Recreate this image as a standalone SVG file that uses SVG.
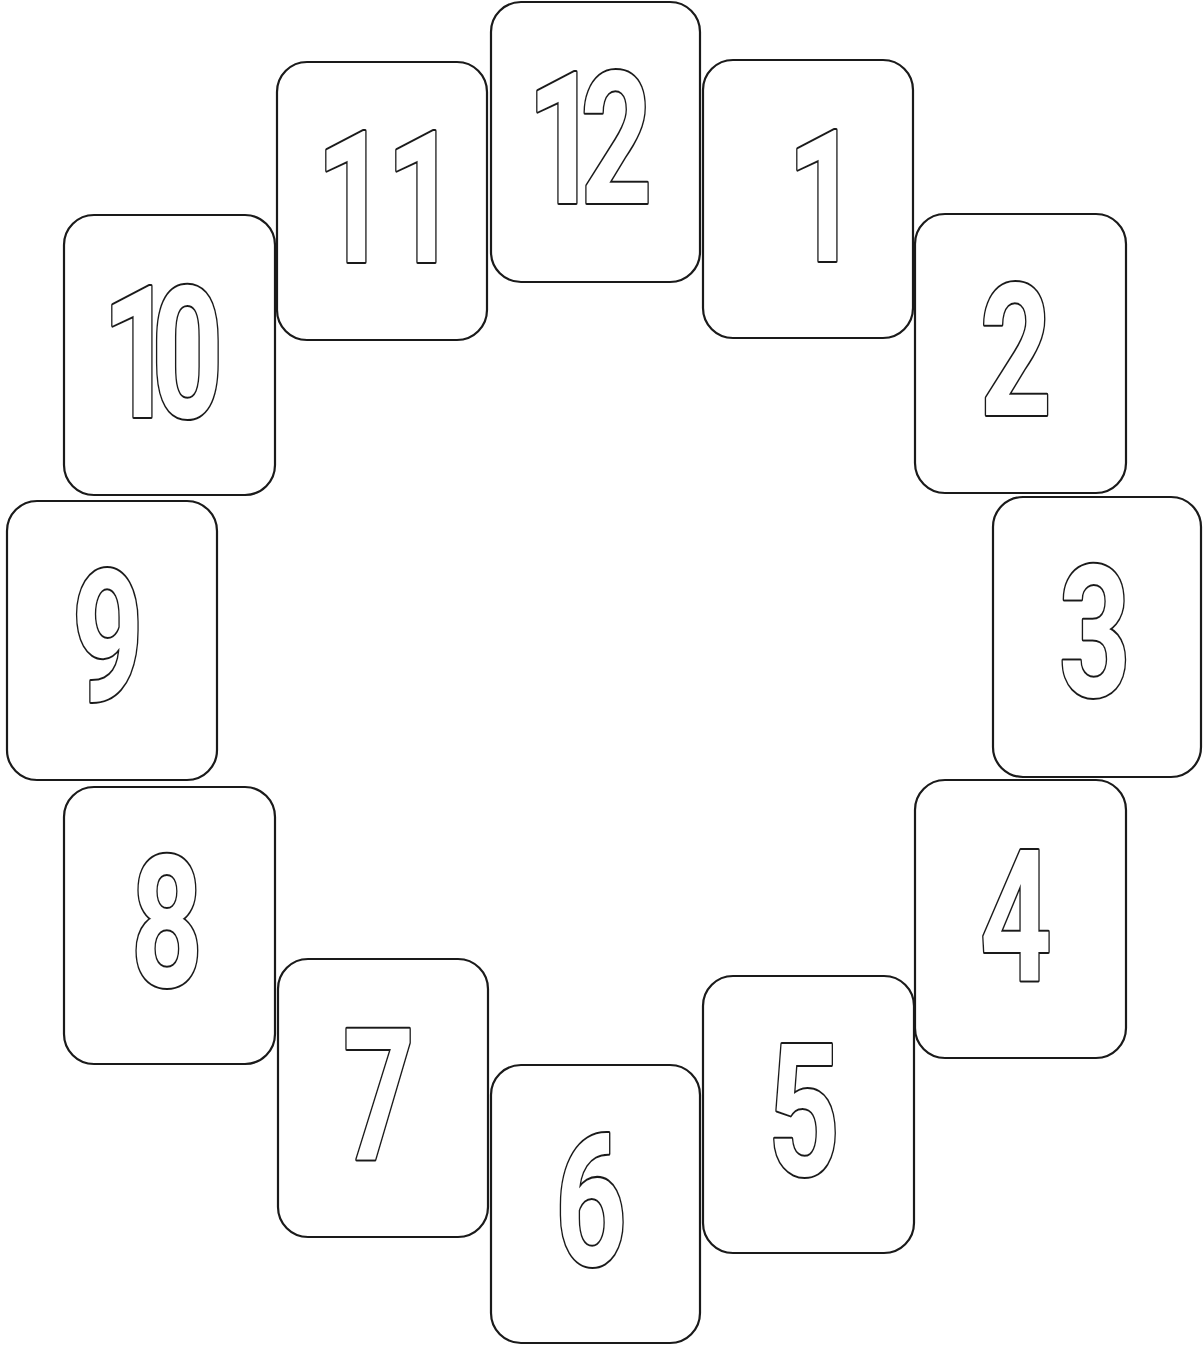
<svg xmlns="http://www.w3.org/2000/svg" width="1203" height="1345" viewBox="0 0 1203 1345">
  <style>
    .card { fill: #ffffff; stroke: #1a1a1a; stroke-width: 2.2; }
    .n { font-family: Roboto, "Liberation Sans", sans-serif; font-weight: 700; font-size: 184px; text-anchor: middle; fill: #ffffff; stroke: #1a1a1a; stroke-width: 4; stroke-linejoin: round; paint-order: stroke fill; }
    .s { text-anchor: start; }
  </style>
  <rect width="1203" height="1345" fill="#ffffff"/>
  <g id="connectors"></g>
  <g id="node-12">
    <rect class="card" x="491" y="2" width="209" height="280" rx="30"/>
    <text class="n s" transform="translate(527.3,203) scale(0.68,1)" x="0 78.2">12</text>
  </g>
  <g id="node-1">
    <rect class="card" x="703" y="60" width="210" height="278" rx="30"/>
    <text class="n s" transform="translate(787.3,261) scale(0.68,1)">1</text>
  </g>
  <g id="node-2">
    <rect class="card" x="915" y="214" width="211" height="279" rx="30"/>
    <text class="n" transform="translate(1016,415) scale(0.68,1)">2</text>
  </g>
  <g id="node-3">
    <rect class="card" x="993" y="497" width="208" height="280" rx="30"/>
    <text class="n" transform="translate(1095,696) scale(0.68,1)">3</text>
  </g>
  <g id="node-4">
    <rect class="card" x="915" y="780" width="211" height="278" rx="30"/>
    <text class="n" transform="translate(1016,981) scale(0.68,1)">4</text>
  </g>
  <g id="node-5">
    <rect class="card" x="703" y="976" width="211" height="277" rx="30"/>
    <text class="n" transform="translate(804,1175) scale(0.68,1)">5</text>
  </g>
  <g id="node-6">
    <rect class="card" x="491" y="1065" width="209" height="278" rx="30"/>
    <text class="n" transform="translate(591,1265) scale(0.68,1)">6</text>
  </g>
  <g id="node-7">
    <rect class="card" x="278" y="959" width="210" height="278" rx="30"/>
    <text class="n" transform="translate(379,1160) scale(0.68,1)">7</text>
  </g>
  <g id="node-8">
    <rect class="card" x="64" y="787" width="211" height="277" rx="30"/>
    <text class="n" transform="translate(167,986) scale(0.68,1)">8</text>
  </g>
  <g id="node-9">
    <rect class="card" x="7" y="501" width="210" height="279" rx="30"/>
    <text class="n" transform="translate(108,701) scale(0.68,1)">9</text>
  </g>
  <g id="node-10">
    <rect class="card" x="64" y="215" width="211" height="280" rx="30"/>
    <text class="n s" transform="translate(102.3,417) scale(0.68,1)" x="0 72.5">10</text>
  </g>
  <g id="node-11">
    <rect class="card" x="277" y="62" width="210" height="278" rx="30"/>
    <text class="n s" transform="translate(316.3,262) scale(0.68,1)" x="0 103">11</text>
  </g>
</svg>
